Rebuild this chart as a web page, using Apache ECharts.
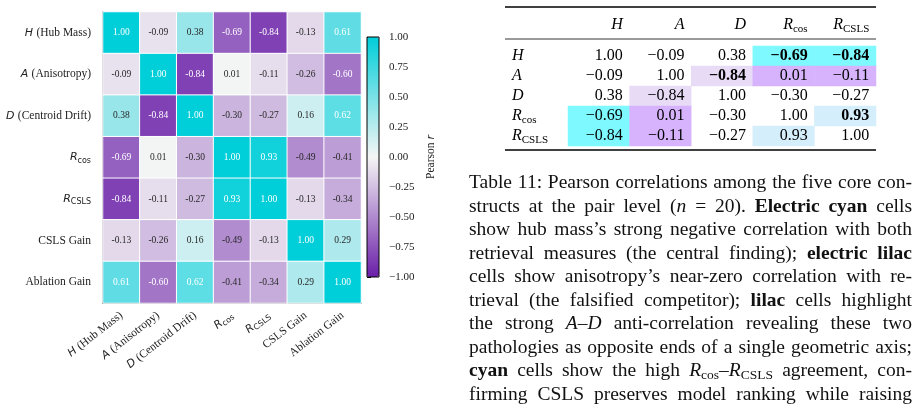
<!DOCTYPE html>
<html>
<head>
<meta charset="utf-8">
<script src="https://cdn.jsdelivr.net/npm/echarts@6/dist/echarts.min.js"></script>
<style>
  html, body { margin: 0; padding: 0; background: #fff; }
  #container { width: 918px; height: 404px; }
</style>
</head>
<body>
<div id="container"></div>
<script>
// ---- heatmap data ----
var constructs = ['H (Hub Mass)', 'A (Anisotropy)', 'D (Centroid Drift)', 'R_cos', 'R_CSLS', 'CSLS Gain', 'Ablation Gain'];
var constructTicks = [
    '{it|H} {rm|(Hub Mass)}',
    '{it|A} {rm|(Anisotropy)}',
    '{it|D} {rm|(Centroid Drift)}',
    '{it|R}{sub|cos}',
    '{it|R}{sub|CSLS}',
    '{rm|CSLS Gain}',
    '{rm|Ablation Gain}'
];
var rowH     = [1.00, -0.09, 0.38, -0.69, -0.84, -0.13, 0.61];
var rowA     = [-0.09, 1.00, -0.84, 0.01, -0.11, -0.26, -0.60];
var rowD     = [0.38, -0.84, 1.00, -0.30, -0.27, 0.16, 0.62];
var rowRcos  = [-0.69, 0.01, -0.30, 1.00, 0.93, -0.49, -0.41];
var rowRcsls = [-0.84, -0.11, -0.27, 0.93, 1.00, -0.13, -0.34];
var rowCsls  = [-0.13, -0.26, 0.16, -0.49, -0.13, 1.00, 0.29];
var rowAbl   = [0.61, -0.60, 0.62, -0.41, -0.34, 0.29, 1.00];
var corrRows = [rowH, rowA, rowD, rowRcos, rowRcsls, rowCsls, rowAbl];

var barTicks = [-1, -0.75, -0.5, -0.25, 0, 0.25, 0.5, 0.75, 1];

// ---- table data ----
var tableKeys   = ['H', 'A', 'D', 'R_cos', 'R_CSLS'];
var tableLabels = ['{it|H}', '{it|A}', '{it|D}', '{it|R}{sub|cos}', '{it|R}{sub|CSLS}'];
var tabH     = [1.00, -0.09, 0.38, -0.69, -0.84];
var tabA     = [-0.09, 1.00, -0.84, 0.01, -0.11];
var tabD     = [0.38, -0.84, 1.00, -0.30, -0.27];
var tabRcos  = [-0.69, 0.01, -0.30, 1.00, 0.93];
var tabRcsls = [-0.84, -0.11, -0.27, 0.93, 1.00];
var tableRows = [tabH, tabA, tabD, tabRcos, tabRcsls];
// highlight: c = electric cyan, L = electric lilac, l = lilac, b = light cyan
var fillH     = ['', '', '', 'c', 'c'];
var fillA     = ['', '', 'l', 'L', 'L'];
var fillD     = ['', 'l', '', '', ''];
var fillRcos  = ['c', 'L', '', '', 'b'];
var fillRcsls = ['c', 'L', '', 'b', ''];
var tableFill = [fillH, fillA, fillD, fillRcos, fillRcsls];
var boldH     = [0, 0, 0, 1, 1];
var boldA     = [0, 0, 1, 0, 0];
var boldD     = [0, 0, 0, 0, 0];
var boldRcos  = [0, 0, 0, 0, 1];
var boldRcsls = [0, 0, 0, 0, 0];
var tableBold = [boldH, boldA, boldD, boldRcos, boldRcsls];

var fillColors = { c: '#7df9ff', L: '#d6b3fc', l: '#e7dbf6', b: '#d5eefb', '': 'rgba(0,0,0,0)' };

var captionLines = [
    'Table 11: Pearson correlations among the five core con-',
    'structs at the pair level ({i|n} = 20). {b|Electric cyan} cells',
    'show hub mass\u2019s strong negative correlation with both',
    'retrieval measures (the central finding); {b|electric lilac}',
    'cells show anisotropy\u2019s near-zero correlation with re-',
    'trieval (the falsified competitor); {b|lilac} cells highlight',
    'the strong {i|A}\u2013{i|D} anti-correlation revealing these two',
    'pathologies as opposite ends of a single geometric axis;',
    '{b|cyan} cells show the high {i|R}{s|cos}\u2013{i|R}{s|CSLS} agreement, con-',
    'firming CSLS preserves model ranking while raising'
];

var dom = document.getElementById('container');
var myChart = echarts.init(dom);

var serif = 'Liberation Serif';
var sans = 'DejaVu Sans';

function minus(v) {
    return v < 0 ? '\u2212' + Math.abs(v).toFixed(2) : v.toFixed(2);
}

var heatData = [];
for (var r = 0; r < corrRows.length; r++) {
    for (var c = 0; c < corrRows[r].length; c++) {
        var v = corrRows[r][c];
        heatData.push({
            value: [c, r, v],
            label: { color: Math.abs(v) >= 0.5 ? '#ffffff' : '#262626' }
        });
    }
}

var tableData = [];
for (var tr = 0; tr < tableRows.length; tr++) {
    for (var tc = 0; tc < tableRows[tr].length; tc++) {
        tableData.push({
            value: [tc, tr, tableRows[tr][tc]],
            itemStyle: { color: fillColors[tableFill[tr][tc]] },
            label: { fontWeight: tableBold[tr][tc] ? 'bold' : 'normal' }
        });
    }
}

var headerData = [];
for (var h = 0; h < tableKeys.length; h++) {
    headerData.push({ value: [h, 0, h], itemStyle: { color: 'rgba(0,0,0,0)' } });
}

var tickRich = {
    it: { fontFamily: sans, fontStyle: 'italic', fontSize: 11, color: '#222' },
    rm: { fontFamily: serif, fontSize: 11.5, color: '#222' },
    sub: { fontFamily: sans, fontSize: 8, color: '#222', padding: [6, 0, 0, 0] }
};
var tabRich = {
    it: { fontFamily: serif, fontStyle: 'italic', fontSize: 16, color: '#000' },
    sub: { fontFamily: serif, fontSize: 11, color: '#000', padding: [8, 0, 0, 0] }
};

// ---- caption, laid out word by word so each line is justified ----
var capSize = 19.5;
var capLeft = 469, capRight = 912;
var capFonts = {
    '':  capSize + 'px "' + serif + '"',
    b:   'bold ' + capSize + 'px "' + serif + '"',
    i:   'italic ' + capSize + 'px "' + serif + '"',
    s:   '13.5px "' + serif + '"'
};
var measureCtx = document.createElement('canvas').getContext('2d');
function textWidth(style, txt) {
    measureCtx.font = capFonts[style];
    return measureCtx.measureText(txt).width;
}
function splitWords(line) {
    var segs = [], re = /\{(\w+)\|([^}]*)\}/g, last = 0, m;
    while ((m = re.exec(line)) !== null) {
        if (m.index > last) segs.push({ s: '', t: line.slice(last, m.index) });
        segs.push({ s: m[1], t: m[2] });
        last = re.lastIndex;
    }
    if (last < line.length) segs.push({ s: '', t: line.slice(last) });
    var words = [[]];
    segs.forEach(function (seg) {
        var parts = seg.t.split(' ');
        parts.forEach(function (p, k) {
            if (k > 0) words.push([]);
            if (p) words[words.length - 1].push({ s: seg.s, t: p });
        });
    });
    return words.filter(function (w) { return w.length; });
}

var graphics = [
    { type: 'line', shape: { x1: 505, y1: 7, x2: 876, y2: 7 }, style: { stroke: '#000', lineWidth: 1.3 } },
    { type: 'line', shape: { x1: 505, y1: 39, x2: 876, y2: 39 }, style: { stroke: '#000', lineWidth: 0.8 } },
    { type: 'line', shape: { x1: 505, y1: 150, x2: 876, y2: 150 }, style: { stroke: '#000', lineWidth: 1.3 } }
];
var capRich = {
    b: { fontFamily: serif, fontSize: capSize, fontWeight: 'bold', fill: '#111' },
    i: { fontFamily: serif, fontSize: capSize, fontStyle: 'italic', fill: '#111' },
    s: { fontFamily: serif, fontSize: 13.5, fill: '#111', padding: [8, 0, 0, 0] }
};
for (var li = 0; li < captionLines.length; li++) {
    var words = splitWords(captionLines[li]);
    var widths = words.map(function (w) {
        return w.reduce(function (acc, seg) { return acc + textWidth(seg.s, seg.t); }, 0);
    });
    var total = widths.reduce(function (a, b) { return a + b; }, 0);
    var gap = (capRight - capLeft - total) / (words.length - 1);
    var x = capLeft;
    words.forEach(function (w, k) {
        graphics.push({
            type: 'text',
            x: x,
            y: 183 + li * 23.5,
            style: {
                text: w.map(function (seg) { return seg.s ? '{' + seg.s + '|' + seg.t + '}' : seg.t; }).join(''),
                fontFamily: serif,
                fontSize: capSize,
                lineHeight: 22,
                verticalAlign: 'middle',
                fill: '#111',
                rich: capRich
            }
        });
        x += widths[k] + gap;
    });
}

option = {
    backgroundColor: '#ffffff',
    animation: false,
    grid: [
        { left: 103, top: 12, width: 258, height: 291 },
        { left: 367, top: 37, width: 12, height: 240, show: true, z: 5,
          borderColor: '#000', borderWidth: 1, backgroundColor: 'rgba(0,0,0,0)' },
        { left: 568, top: 46, width: 308, height: 100 },
        { left: 568, top: 15, width: 308, height: 20 }
    ],
    xAxis: [
        {
            type: 'category', gridIndex: 0, data: constructs,
            axisLine: { lineStyle: { color: '#333', width: 1.5 } },
            axisTick: { alignWithLabel: true, length: 4, lineStyle: { color: '#333' } },
            splitLine: { show: false },
            axisLabel: {
                rotate: 38, margin: 11, interval: 0,
                formatter: function (val, idx) { return constructTicks[idx]; },
                rich: tickRich
            }
        },
        { type: 'value', gridIndex: 1, show: false },
        { type: 'category', gridIndex: 2, data: tableKeys, show: false },
        { type: 'category', gridIndex: 3, data: tableKeys, show: false }
    ],
    yAxis: [
        {
            type: 'category', gridIndex: 0, data: constructs, inverse: true,
            axisLine: { lineStyle: { color: '#333', width: 1.5 } },
            axisTick: { alignWithLabel: true, length: 4, lineStyle: { color: '#333' } },
            splitLine: { show: false },
            axisLabel: {
                margin: 12, interval: 0,
                formatter: function (val, idx) { return constructTicks[idx]; },
                rich: tickRich
            }
        },
        {
            type: 'value', gridIndex: 1, position: 'right', min: -1, max: 1, interval: 0.25,
            axisLine: { show: false },
            axisTick: { length: 4, lineStyle: { color: '#000' } },
            splitLine: { show: false },
            axisLabel: {
                margin: 10, fontFamily: serif, fontSize: 11, color: '#222',
                formatter: function (v) { return barTicks.indexOf(v) >= 0 ? minus(v) : ''; }
            },
            name: '{rm|Pearson }{it|r}',
            nameLocation: 'middle', nameRotate: 90, nameGap: 46,
            nameTextStyle: {
                rich: {
                    rm: { fontFamily: serif, fontSize: 11.5, color: '#222' },
                    it: { fontFamily: sans, fontStyle: 'italic', fontSize: 11, color: '#222' }
                }
            }
        },
        {
            type: 'category', gridIndex: 2, data: tableKeys, inverse: true,
            axisLine: { show: false }, axisTick: { show: false }, splitLine: { show: false },
            axisLabel: {
                align: 'left', margin: 56, interval: 0,
                formatter: function (val, idx) { return tableLabels[idx]; },
                rich: tabRich
            }
        },
        { type: 'category', gridIndex: 3, data: ['head'], show: false }
    ],
    visualMap: {
        type: 'continuous', min: -1, max: 1, seriesIndex: 0,
        calculable: false, show: true, z: 2,
        left: 367, top: 37, itemWidth: 12, itemHeight: 240, padding: 0,
        text: ['', ''],
        inRange: { color: ['#6a1fa8', '#f5f5f5', '#00ced9'] }
    },
    series: [
        {
            name: 'corr', type: 'heatmap', xAxisIndex: 0, yAxisIndex: 0,
            data: heatData,
            itemStyle: { borderColor: '#ffffff', borderWidth: 1 },
            label: {
                show: true, fontFamily: serif, fontSize: 9.5,
                formatter: function (p) { return p.value[2].toFixed(2); }
            },
            emphasis: { disabled: true }
        },
        {
            name: 'table', type: 'heatmap', xAxisIndex: 2, yAxisIndex: 2,
            data: tableData,
            label: {
                show: true, position: 'insideRight', distance: 7,
                fontFamily: serif, fontSize: 16, color: '#000',
                formatter: function (p) { return minus(p.value[2]); }
            },
            emphasis: { disabled: true }
        },
        {
            name: 'header', type: 'heatmap', xAxisIndex: 3, yAxisIndex: 3,
            data: headerData,
            label: {
                show: true, position: 'insideRight', distance: 7,
                lineHeight: 20,
                formatter: function (p) { return tableLabels[p.value[2]]; },
                rich: tabRich
            },
            emphasis: { disabled: true }
        }
    ],
    graphic: graphics
};

myChart.setOption(option);
</script>
</body>
</html>
